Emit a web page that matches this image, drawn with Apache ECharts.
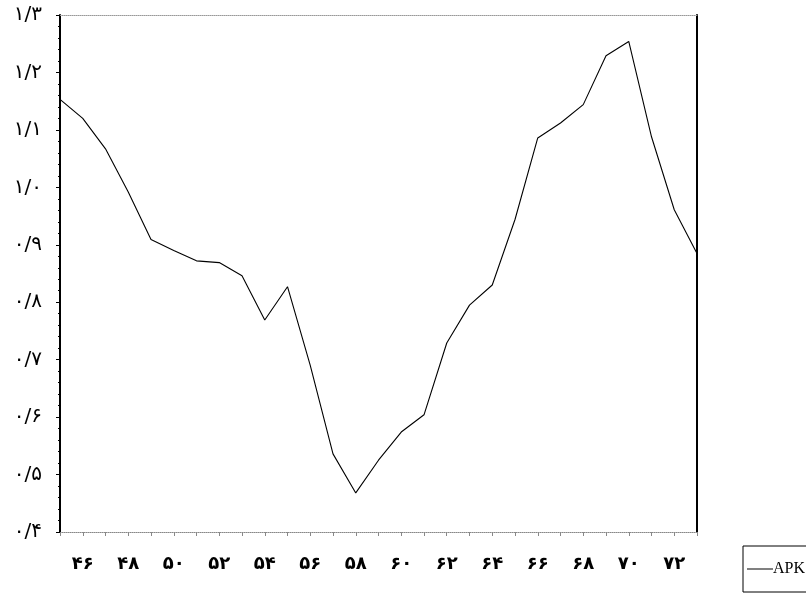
<!DOCTYPE html>
<html>
<head>
<meta charset="utf-8">
<script src="https://cdn.jsdelivr.net/npm/echarts@6/dist/echarts.min.js"></script>
<style>
html,body{margin:0;padding:0;background:#fff;}
#chart{width:806px;height:607px;}
</style>
</head>
<body>
<div id="chart"></div>
<script>
// Years (Iranian calendar, 13xx shown as two digits)
const years = [45,46,47,48,49,50,51,52,53,54,55,56,57,58,59,60,61,62,63,64,65,66,67,68,69,70,71,72,73];
// APK series values
const apk = [1.153,1.12,1.067,0.992,0.909,0.89,0.872,0.869,0.846,0.769,0.827,0.69,0.536,0.468,0.525,0.574,0.604,0.729,0.795,0.83,0.944,1.086,1.112,1.144,1.229,1.254,1.088,0.961,0.885];
// X tick labels (shown years)
const xTickYears = [46,48,50,52,54,56,58,60,62,64,66,68,70,72];
// Y tick labels
const yTickValues = [0.4,0.5,0.6,0.7,0.8,0.9,1.0,1.1,1.2,1.3];
const yTickLabels = ['۰/۴','۰/۵','۰/۶','۰/۷','۰/۸','۰/۹','۱/۰','۱/۱','۱/۲','۱/۳'];

const fa = s => String(s).replace(/[0-9]/g, d => '۰۱۲۳۴۵۶۷۸۹'[+d]);

const chart = echarts.init(document.getElementById('chart'));
chart.setOption({
  backgroundColor: '#fff',
  animation: false,
  grid: { left: 60, right: 109, top: 15, bottom: 75 },
  legend: {
    data: ['APK'],
    left: 743, bottom: 15,
    orient: 'vertical',
    borderColor: '#000', borderWidth: 1,
    padding: [15, 3, 15, 4],
    itemWidth: 26, itemHeight: 1, itemGap: 0,
    icon: 'rect',
    textStyle: { fontFamily: 'Liberation Serif', fontSize: 16, color: '#000', padding: [0,0,0,-5] }
  },
  xAxis: [{
    type: 'category',
    data: years,
    boundaryGap: false,
    axisLine: { show: true, lineStyle: { color: '#888', type: 'dotted', width: 1 } },
    axisTick: { show: true, length: 4, interval: 0, lineStyle: { color: '#888' } },
    axisLabel: {
      interval: (i, v) => xTickYears.indexOf(+v) >= 0,
      formatter: v => fa(v),
      fontFamily: 'DejaVu Sans', fontWeight: 'bold', fontSize: 18, color: '#000', margin: 23
    },
    splitLine: { show: false }
  }, {
    type: 'category',
    data: years,
    boundaryGap: false,
    position: 'top',
    axisLine: { show: true, lineStyle: { color: '#999', type: 'dotted', width: 1 } },
    axisTick: { show: false },
    axisLabel: { show: false }
  }],
  yAxis: [{
    type: 'value',
    min: 0.4, max: 1.3, interval: 0.1,
    axisLine: { show: true, lineStyle: { color: '#000', width: 2 } },
    axisTick: { show: true, length: 4, inside: false, lineStyle: { color: '#000' } },
    minorTick: { show: true, splitNumber: 5, length: 2, lineStyle: { color: '#000' } },
    axisLabel: {
      formatter: v => { const i = yTickValues.findIndex(t => Math.abs(t - v) < 1e-6); return i >= 0 ? yTickLabels[i] : ''; },
      fontFamily: 'DejaVu Sans', fontSize: 20, color: '#000', margin: 18
    },
    splitLine: { show: false }
  }, {
    type: 'value',
    position: 'right',
    min: 0.4, max: 1.3, interval: 0.1,
    axisLine: { show: true, lineStyle: { color: '#000', width: 2 } },
    axisTick: { show: false },
    axisLabel: { show: false },
    splitLine: { show: false }
  }],
  series: [{
    name: 'APK',
    type: 'line',
    data: apk,
    symbol: 'none',
    lineStyle: { color: '#000', width: 1.1 },
    itemStyle: { color: '#000' }
  }]
});
</script>
</body>
</html>
